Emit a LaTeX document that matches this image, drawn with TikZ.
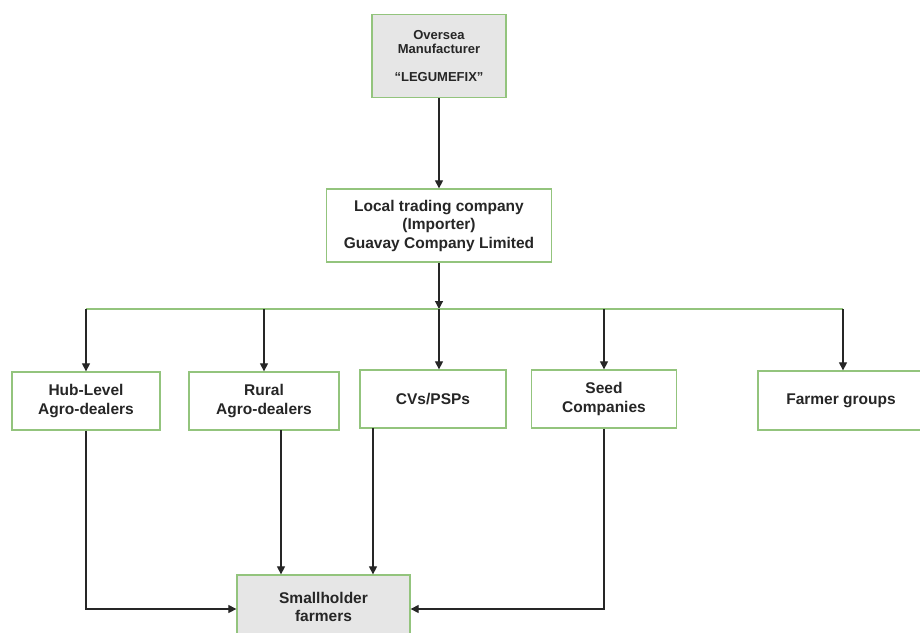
\documentclass[tikz,border=0pt]{standalone}
\usepackage{fontspec}
\setmainfont{Liberation Sans}
\usetikzlibrary{arrows.meta}
\definecolor{boxgreen}{RGB}{147,196,125}
\definecolor{boxgrey}{RGB}{230,230,230}
\begin{document}
\begin{tikzpicture}[x=1pt,y=-1pt,
  box/.style={draw=boxgreen, line width=1.3pt, fill=white, align=center,
    font=\bfseries\fontsize{15.5}{18.5}\selectfont, inner sep=0pt, text=black!85},
  greybox/.style={box, fill=boxgrey},
  arr/.style={draw=black!85, line width=1.2pt, -{Triangle[length=8pt,width=8pt]}},
  bus/.style={draw=boxgreen, line width=2pt}
]
\clip (0,0) rectangle (920,632);
\fill[white] (0,0) rectangle (920,632);

\node[greybox, minimum width=134pt, minimum height=83pt,
  font=\bfseries\fontsize{13}{14.5}\selectfont] (top) at (439,56)
  {Oversea\\Manufacturer\\[13pt]“LEGUMEFIX”};
\node[box, minimum width=225pt, minimum height=73pt] (local) at (439,225.5)
  {Local trading company\\(Importer)\\Guavay Company Limited};

\node[box, minimum width=148pt, minimum height=58pt] (hub) at (86,401) {Hub-Level\\Agro-dealers};
\node[box, minimum width=150pt, minimum height=58pt] (rural) at (264,401) {Rural\\Agro-dealers};
\node[box, minimum width=146pt, minimum height=58pt] (cvs) at (433,399) {CVs/PSPs};
\node[box, minimum width=145pt, minimum height=58pt] (seed) at (604,399) {Seed\\Companies};
\node[box, minimum width=166pt, minimum height=59pt] (farmer) at (841,400.5) {Farmer groups};

\node[greybox, minimum width=173pt, minimum height=64pt] (small) at (323.5,607) {Smallholder\\farmers};

\coordinate (b1) at (86,309);
\coordinate (b2) at (264,309);
\coordinate (b3) at (439,309);
\coordinate (b4) at (604,309);
\coordinate (b5) at (843,309);

\draw[arr] (top.south) -- (top.south |- local.north);
\draw[arr] (local.south) -- (local.south |- b3);
\draw[bus] (b1) -- (b5);

\draw[arr] (b1) -- (b1 |- hub.north);
\draw[arr] (b2) -- (b2 |- rural.north);
\draw[arr] (b3) -- (b3 |- cvs.north);
\draw[arr] (b4) -- (b4 |- seed.north);
\draw[arr] (b5) -- (b5 |- farmer.north);

\coordinate (r1) at (281,430);
\coordinate (c1) at (373,428);
\draw[arr] (hub.south) |- ([yshift=-2pt]small.west);
\draw[arr] (r1) -- (r1 |- small.north);
\draw[arr] (c1) -- (c1 |- small.north);
\draw[arr] (seed.south) |- ([yshift=-2pt]small.east);
\end{tikzpicture}
\end{document}
